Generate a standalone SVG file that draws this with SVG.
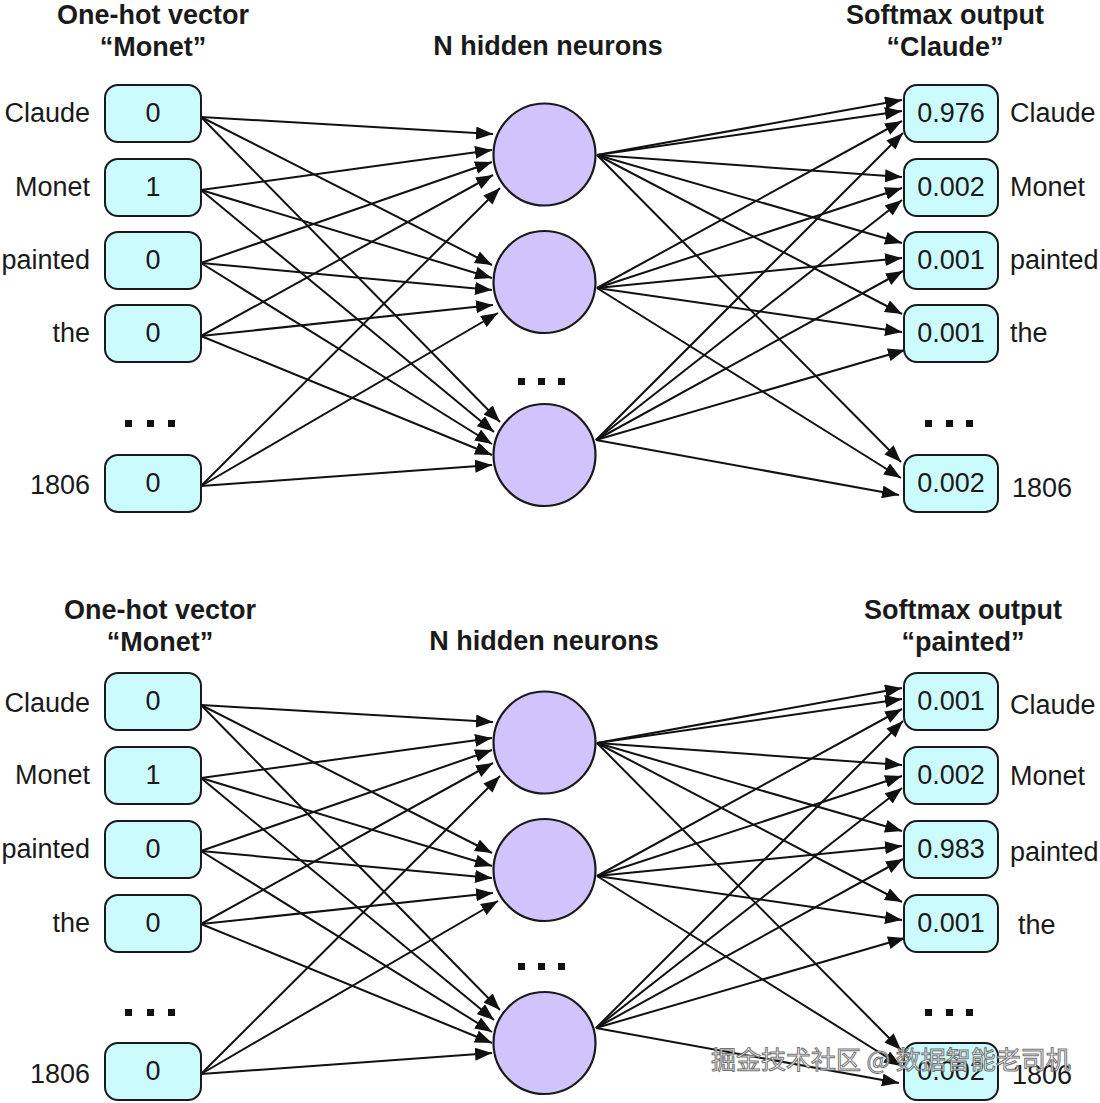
<svg xmlns="http://www.w3.org/2000/svg" width="1100" height="1103" viewBox="0 0 1100 1103">
<style>
  .bg{fill:#ffffff}
  .box{fill:#ccfbfd;stroke:#1a1a1a;stroke-width:2}
  .neuron{fill:#d1c3fc;stroke:#1a1a1a;stroke-width:2.2}
  .c{stroke:#111;stroke-width:2;fill:none;marker-end:url(#arr)}
  .t{font-family:"Liberation Sans",Arial,sans-serif;font-size:27px;fill:#1a1a1a}
  .title{font-family:"Liberation Sans",Arial,sans-serif;font-size:27px;font-weight:bold;fill:#1a1a1a;text-anchor:middle}
  .mid{text-anchor:middle}
  .end{text-anchor:end}
  .dot{fill:#111}
  .wm{font-family:"Noto Sans CJK SC","Liberation Sans",sans-serif;font-size:25px;fill:#ffffff;stroke:#6e6e6e;stroke-width:1;opacity:0.95}
</style>
<defs>
  <marker id="arr" markerUnits="userSpaceOnUse" markerWidth="18" markerHeight="13" refX="17" refY="6.5" orient="auto">
    <path d="M0,0 L17,6.5 L0,13 z" fill="#111"/>
  </marker>
  <g id="conns">
    <line class="c" x1="201" y1="117" x2="493" y2="134"/>
    <line class="c" x1="201" y1="117" x2="492" y2="265"/>
    <line class="c" x1="201" y1="117" x2="500" y2="422"/>
    <line class="c" x1="201" y1="190" x2="492" y2="150"/>
    <line class="c" x1="201" y1="190" x2="492" y2="278"/>
    <line class="c" x1="201" y1="190" x2="494" y2="432"/>
    <line class="c" x1="201" y1="263" x2="492" y2="162"/>
    <line class="c" x1="201" y1="263" x2="492" y2="290"/>
    <line class="c" x1="201" y1="263" x2="492" y2="444"/>
    <line class="c" x1="201" y1="336" x2="493" y2="175"/>
    <line class="c" x1="201" y1="336" x2="493" y2="305"/>
    <line class="c" x1="201" y1="336" x2="492" y2="455"/>
    <line class="c" x1="201" y1="486" x2="500" y2="188"/>
    <line class="c" x1="201" y1="486" x2="498" y2="313"/>
    <line class="c" x1="201" y1="486" x2="492" y2="465"/>
    <line class="c" x1="597" y1="155" x2="902" y2="100"/>
    <line class="c" x1="597" y1="155" x2="902" y2="111"/>
    <line class="c" x1="597" y1="288" x2="902" y2="121"/>
    <line class="c" x1="596" y1="440" x2="903" y2="133"/>
    <line class="c" x1="597" y1="155" x2="902" y2="177"/>
    <line class="c" x1="597" y1="288" x2="902" y2="188"/>
    <line class="c" x1="596" y1="440" x2="902" y2="200"/>
    <line class="c" x1="597" y1="155" x2="902" y2="243"/>
    <line class="c" x1="597" y1="288" x2="902" y2="258"/>
    <line class="c" x1="596" y1="440" x2="903" y2="271"/>
    <line class="c" x1="597" y1="155" x2="902" y2="314"/>
    <line class="c" x1="597" y1="288" x2="902" y2="332"/>
    <line class="c" x1="596" y1="440" x2="905" y2="350"/>
    <line class="c" x1="597" y1="155" x2="901" y2="462"/>
    <line class="c" x1="597" y1="288" x2="901" y2="478"/>
    <line class="c" x1="596" y1="440" x2="899" y2="495"/>
  </g>
</defs>
<rect class="bg" x="0" y="0" width="1100" height="1103"/>

<g id="connectors">
  <use href="#conns"/>
  <use href="#conns" transform="translate(0,588)"/>
</g>

<g id="top-titles">
  <text class="title" x="153" y="24">One-hot vector</text>
  <text class="title" x="153" y="56">“Monet”</text>
  <text class="title" x="548" y="55">N hidden neurons</text>
  <text class="title" x="945" y="24">Softmax output</text>
  <text class="title" x="945" y="56">“Claude”</text>
</g>

<g id="top-in-claude"><text class="t end" x="90" y="122">Claude</text><rect class="box" x="105" y="85" width="96" height="57" rx="13"/><text class="t mid" x="153" y="122">0</text></g>
<g id="top-in-monet"><text class="t end" x="90" y="196">Monet</text><rect class="box" x="105" y="159" width="96" height="57" rx="13"/><text class="t mid" x="153" y="196">1</text></g>
<g id="top-in-painted"><text class="t end" x="90" y="269">painted</text><rect class="box" x="105" y="232" width="96" height="57" rx="13"/><text class="t mid" x="153" y="269">0</text></g>
<g id="top-in-the"><text class="t end" x="90" y="342">the</text><rect class="box" x="105" y="305" width="96" height="57" rx="13"/><text class="t mid" x="153" y="342">0</text></g>
<g id="top-in-dots"><rect class="dot" x="125" y="420" width="7" height="7"/><rect class="dot" x="147" y="420" width="7" height="7"/><rect class="dot" x="168" y="420" width="7" height="7"/></g>
<g id="top-in-1806"><text class="t end" x="90" y="494">1806</text><rect class="box" x="105" y="455" width="96" height="57" rx="13"/><text class="t mid" x="153" y="492">0</text></g>

<g id="top-h1"><circle class="neuron" cx="544.5" cy="154.5" r="51"/></g>
<g id="top-h2"><circle class="neuron" cx="544.5" cy="282" r="51"/></g>
<g id="top-hdots"><rect class="dot" x="518" y="378" width="7" height="7"/><rect class="dot" x="538" y="378" width="7" height="7"/><rect class="dot" x="558" y="378" width="7" height="7"/></g>
<g id="top-h3"><circle class="neuron" cx="544.5" cy="455" r="51"/></g>

<g id="top-out-claude"><rect class="box" x="904" y="85" width="94" height="57" rx="13"/><text class="t mid" x="951" y="122">0.976</text><text class="t" x="1010" y="122">Claude</text></g>
<g id="top-out-monet"><rect class="box" x="904" y="159" width="94" height="57" rx="13"/><text class="t mid" x="951" y="196">0.002</text><text class="t" x="1010" y="196">Monet</text></g>
<g id="top-out-painted"><rect class="box" x="904" y="232" width="94" height="57" rx="13"/><text class="t mid" x="951" y="269">0.001</text><text class="t" x="1010" y="269">painted</text></g>
<g id="top-out-the"><rect class="box" x="904" y="305" width="94" height="57" rx="13"/><text class="t mid" x="951" y="342">0.001</text><text class="t" x="1010" y="342">the</text></g>
<g id="top-out-dots"><rect class="dot" x="925" y="420" width="7" height="7"/><rect class="dot" x="946" y="420" width="7" height="7"/><rect class="dot" x="966" y="420" width="7" height="7"/></g>
<g id="top-out-1806"><rect class="box" x="904" y="455" width="94" height="57" rx="13"/><text class="t mid" x="951" y="492">0.002</text><text class="t" x="1012" y="497">1806</text></g>

<g id="bottom-titles">
  <text class="title" x="160" y="619">One-hot vector</text>
  <text class="title" x="160" y="651">“Monet”</text>
  <text class="title" x="544" y="650">N hidden neurons</text>
  <text class="title" x="963" y="619">Softmax output</text>
  <text class="title" x="963" y="651">“painted”</text>
</g>

<g id="bot-in-claude"><text class="t end" x="90" y="712">Claude</text><rect class="box" x="105" y="673" width="96" height="57" rx="13"/><text class="t mid" x="153" y="710">0</text></g>
<g id="bot-in-monet"><text class="t end" x="90" y="784">Monet</text><rect class="box" x="105" y="747" width="96" height="57" rx="13"/><text class="t mid" x="153" y="784">1</text></g>
<g id="bot-in-painted"><text class="t end" x="90" y="858">painted</text><rect class="box" x="105" y="821" width="96" height="57" rx="13"/><text class="t mid" x="153" y="858">0</text></g>
<g id="bot-in-the"><text class="t end" x="90" y="932">the</text><rect class="box" x="105" y="895" width="96" height="57" rx="13"/><text class="t mid" x="153" y="932">0</text></g>
<g id="bot-in-dots"><rect class="dot" x="125" y="1009" width="7" height="7"/><rect class="dot" x="147" y="1009" width="7" height="7"/><rect class="dot" x="168" y="1009" width="7" height="7"/></g>
<g id="bot-in-1806"><text class="t end" x="90" y="1083">1806</text><rect class="box" x="105" y="1043" width="96" height="57" rx="13"/><text class="t mid" x="153" y="1080">0</text></g>

<g id="bot-h1"><circle class="neuron" cx="544.5" cy="742.5" r="51"/></g>
<g id="bot-h2"><circle class="neuron" cx="544.5" cy="870" r="51"/></g>
<g id="bot-hdots"><rect class="dot" x="518" y="963" width="7" height="7"/><rect class="dot" x="538" y="963" width="7" height="7"/><rect class="dot" x="558" y="963" width="7" height="7"/></g>
<g id="bot-h3"><circle class="neuron" cx="544.5" cy="1043" r="51"/></g>

<g id="bot-out-claude"><rect class="box" x="904" y="673" width="94" height="57" rx="13"/><text class="t mid" x="951" y="710">0.001</text><text class="t" x="1010" y="714">Claude</text></g>
<g id="bot-out-monet"><rect class="box" x="904" y="747" width="94" height="57" rx="13"/><text class="t mid" x="951" y="784">0.002</text><text class="t" x="1010" y="785">Monet</text></g>
<g id="bot-out-painted"><rect class="box" x="904" y="821" width="94" height="57" rx="13"/><text class="t mid" x="951" y="858">0.983</text><text class="t" x="1010" y="861">painted</text></g>
<g id="bot-out-the"><rect class="box" x="904" y="895" width="94" height="57" rx="13"/><text class="t mid" x="951" y="932">0.001</text><text class="t" x="1018" y="934">the</text></g>
<g id="bot-out-dots"><rect class="dot" x="925" y="1009" width="7" height="7"/><rect class="dot" x="946" y="1009" width="7" height="7"/><rect class="dot" x="966" y="1009" width="7" height="7"/></g>
<g id="bot-out-1806"><rect class="box" x="904" y="1043" width="94" height="57" rx="13"/><text class="t mid" x="951" y="1080">0.002</text><text class="t" x="1012" y="1084">1806</text></g>

<text class="wm" x="711" y="1069">掘金技术社区 @ 数据智能老司机</text>
</svg>
